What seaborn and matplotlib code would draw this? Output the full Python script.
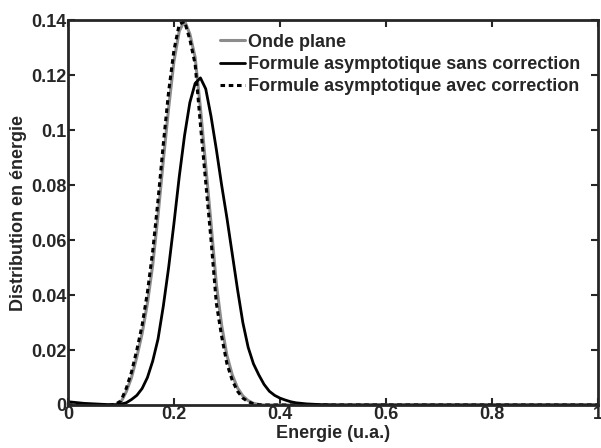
import numpy as np
import pandas as pd
import matplotlib
matplotlib.use("Agg")
import matplotlib.pyplot as plt
import seaborn as sns

# Energy grid (u.a.)
energie = list(np.round(np.arange(0, 0.51, 0.01), 2)) + [1.0]

onde_plane = [0, 0, 0, 0, 0, 0, 0, 0, 0,
              0.0002, 0.001, 0.0048, 0.010, 0.0175, 0.026, 0.037, 0.051, 0.069, 0.089, 0.108,
              0.125, 0.136, 0.1398, 0.135, 0.1265, 0.108, 0.087, 0.066, 0.044, 0.029,
              0.018, 0.011, 0.0062, 0.0033, 0.0016, 0.0006, 0.0002, 0, 0, 0,
              0, 0, 0, 0, 0, 0, 0, 0, 0, 0, 0, 0]

sans_correction = [0.0012, 0.0010, 0.0008, 0.0006, 0.0005, 0.0004, 0.0003, 0.0002, 0.0001,
                   0.0001, 0.0003, 0.0008, 0.0020, 0.0035, 0.006, 0.010, 0.016, 0.024, 0.036, 0.050,
                   0.066, 0.083, 0.098, 0.110, 0.117, 0.119, 0.115, 0.105, 0.093, 0.080,
                   0.068, 0.055, 0.042, 0.030, 0.021, 0.015, 0.011, 0.0075, 0.005, 0.0035,
                   0.0025, 0.0018, 0.0012, 0.0008, 0.0006, 0.0004, 0.0003, 0.0002, 0.0001, 0.0001,
                   0, 0]

avec_correction = [0, 0, 0, 0, 0, 0, 0, 0, 0,
                   0.0003, 0.0015, 0.006, 0.012, 0.020, 0.029, 0.041, 0.056, 0.0745, 0.095, 0.114,
                   0.129, 0.1385, 0.1395, 0.133, 0.124, 0.102, 0.081, 0.060, 0.037, 0.025,
                   0.015, 0.009, 0.005, 0.0025, 0.0012, 0.0004, 0.0001, 0, 0, 0,
                   0, 0, 0, 0, 0, 0, 0, 0, 0, 0, 0, 0]

labels = ["Onde plane",
          "Formule asymptotique sans correction",
          "Formule asymptotique avec correction"]
xticks = [0, 0.2, 0.4, 0.6, 0.8, 1]
xticklabels = ["0", "0.2", "0.4", "0.6", "0.8", "1"]
yticks = [0, 0.02, 0.04, 0.06, 0.08, 0.1, 0.12, 0.14]
yticklabels = ["0", "0.02", "0.04", "0.06", "0.08", "0.1", "0.12", "0.14"]

sns.set_style("ticks")
plt.rcParams["font.family"] = ["Liberation Sans", "DejaVu Sans"]
plt.rcParams["font.weight"] = "bold"

fig = plt.figure(figsize=(6.01, 4.48), dpi=100)
ax = fig.add_axes([0.113, 0.096, 0.882, 0.859])

df = pd.DataFrame({"x": energie, "a": onde_plane, "b": sans_correction, "c": avec_correction})

kw = dict(solid_joinstyle="round", dash_joinstyle="round")
sns.lineplot(data=df, x="x", y="a", ax=ax, color="0.55", linewidth=2.2, label=labels[0], **kw)
sns.lineplot(data=df, x="x", y="b", ax=ax, color="black", linewidth=2.0, label=labels[1], **kw)
sns.lineplot(data=df, x="x", y="c", ax=ax, color="black", linewidth=2.2, label=labels[2],
             linestyle=(0, (1.5, 1.2)), **kw)

ax.set_xlim(0, 1)
ax.set_ylim(0, 0.14)
ax.set_xticks(xticks)
ax.set_xticklabels(xticklabels)
ax.set_yticks(yticks)
ax.set_yticklabels(yticklabels)
ax.tick_params(direction="in", length=5, width=1.5, top=True, right=True,
               labelsize=13, pad=1)
for lab in ax.get_xticklabels() + ax.get_yticklabels():
    lab.set_fontweight("bold")
for sp in ax.spines.values():
    sp.set_linewidth(2)
    sp.set_visible(True)

ax.set_xlabel("Energie (u.a.)", fontsize=13, fontweight="bold", labelpad=1)
ax.set_ylabel("Distribution en énergie", fontsize=13, fontweight="bold", labelpad=3)

leg = ax.legend(loc="upper left", frameon=False, fontsize=13, handlelength=1.4,
                handletextpad=0.15, labelspacing=0.3, borderpad=0, borderaxespad=0,
                bbox_to_anchor=(0.287, 0.965))
for t in leg.get_texts():
    t.set_fontweight("bold")

fig.savefig("out.png", dpi=100)
